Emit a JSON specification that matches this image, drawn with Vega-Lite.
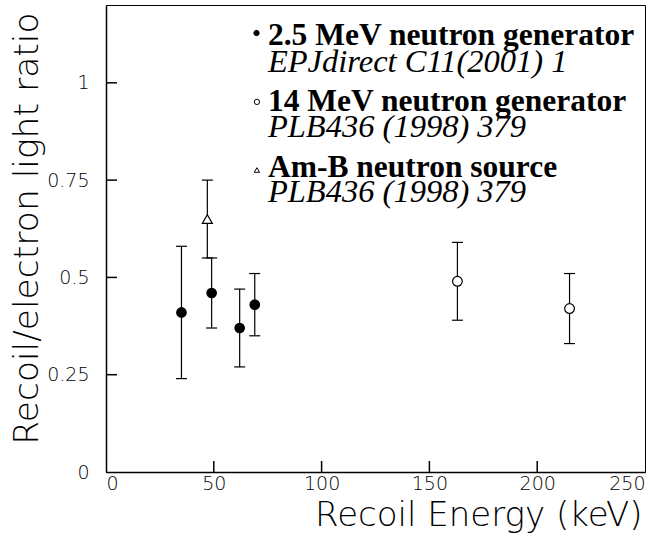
{
  "$schema": "https://vega.github.io/schema/vega-lite/v6.json",
  "width": 539,
  "height": 467,
  "autosize": {"type": "none"},
  "padding": {"left": 106, "top": 5, "right": 21, "bottom": 66},
  "background": "white",
  "config": {
    "view": {"stroke": "#000", "strokeWidth": 1},
    "axis": {
      "domainColor": "#000",
      "domainWidth": 1.5,
      "ticks": false,
      "grid": false,
      "labelFont": "DejaVu Sans",
      "labelFontWeight": 200,
      "labelFontSize": 19,
      "labelColor": "#000",
      "titleFont": "DejaVu Sans",
      "titleFontWeight": 200,
      "titleColor": "#000"
    }
  },
  "datasets": {
    "pts": [
      {"energy": 35, "ratio": 0.41, "lo": 0.24, "hi": 0.58, "src": "2.5 MeV neutron generator"},
      {"energy": 49, "ratio": 0.46, "lo": 0.37, "hi": 0.55, "src": "2.5 MeV neutron generator"},
      {"energy": 62, "ratio": 0.37, "lo": 0.27, "hi": 0.47, "src": "2.5 MeV neutron generator"},
      {"energy": 69, "ratio": 0.43, "lo": 0.35, "hi": 0.51, "src": "2.5 MeV neutron generator"},
      {"energy": 163, "ratio": 0.49, "lo": 0.39, "hi": 0.59, "src": "14 MeV neutron generator"},
      {"energy": 215, "ratio": 0.42, "lo": 0.33, "hi": 0.51, "src": "14 MeV neutron generator"},
      {"energy": 47, "ratio": 0.65, "lo": 0.55, "hi": 0.75, "src": "Am-B neutron source"}
    ],
    "xticks": [{"xt": 50, "base": 0}, {"xt": 100, "base": 0}, {"xt": 150, "base": 0}, {"xt": 200, "base": 0}],
    "yticks": [{"yt": 0.25, "base": 0}, {"yt": 0.5, "base": 0}, {"yt": 0.75, "base": 0}, {"yt": 1, "base": 0}],
    "legend": [
      {"lx": 75.1, "ly": 1.097, "kind": "bold", "label": "2.5 MeV neutron generator"},
      {"lx": 75.1, "ly": 1.029, "kind": "italic", "label": "EPJdirect C11(2001) 1"},
      {"lx": 75.1, "ly": 0.928, "kind": "bold", "label": "14 MeV neutron generator"},
      {"lx": 75.1, "ly": 0.862, "kind": "italic", "label": "PLB436 (1998) 379"},
      {"lx": 75.1, "ly": 0.759, "kind": "bold", "label": "Am-B neutron source"},
      {"lx": 75.1, "ly": 0.695, "kind": "italic", "label": "PLB436 (1998) 379"}
    ],
    "legsym": [
      {"lx": 69.8, "ly": 1.128, "src": "2.5 MeV neutron generator"},
      {"lx": 70, "ly": 0.951, "src": "14 MeV neutron generator"},
      {"lx": 70, "ly": 0.776, "src": "Am-B neutron source"}
    ]
  },
  "layer": [
    {
      "data": {"name": "pts"},
      "mark": {"type": "rule", "color": "#000", "strokeWidth": 1.2},
      "encoding": {
        "x": {"field": "energy", "type": "quantitative", "scale": {"domain": [0, 250], "nice": false, "zero": false},
              "axis": {"orient": "bottom", "values": [0, 50, 100, 150, 200, 250], "labelPadding": 2, "labelBaseline": "top", "format": "d",
                       "title": "Recoil Energy (keV)", "titleFontSize": 34, "titleAnchor": "end",
                       "titleAlign": "right", "titleBaseline": "alphabetic", "titleX": 536, "titleY": 53}},
        "y": {"field": "lo", "type": "quantitative", "scale": {"domain": [0, 1.2], "nice": false, "zero": false},
              "axis": {"orient": "left", "values": [0, 0.25, 0.5, 0.75, 1], "labelPadding": 17, "format": ".2~f",
                       "title": "Recoil/electron light ratio", "titleFontSize": 34.5, "titleAngle": -90,
                       "titleAlign": "right", "titleBaseline": "alphabetic", "titleX": -69, "titleY": 7}},
        "y2": {"field": "hi"}
      }
    },
    {
      "data": {"name": "xticks"},
      "mark": {"type": "tick", "orient": "vertical", "size": 11, "thickness": 1.5, "color": "#000", "opacity": 1, "yOffset": -5.5},
      "encoding": {
        "x": {"field": "xt", "type": "quantitative"},
        "y": {"field": "base", "type": "quantitative"}
      }
    },
    {
      "data": {"name": "yticks"},
      "mark": {"type": "tick", "orient": "horizontal", "size": 11, "thickness": 1.5, "color": "#000", "opacity": 1, "xOffset": 5.5},
      "encoding": {
        "x": {"field": "base", "type": "quantitative"},
        "y": {"field": "yt", "type": "quantitative"}
      }
    },
    {
      "data": {"name": "pts"},
      "mark": {"type": "tick", "orient": "horizontal", "size": 11, "thickness": 1.2, "color": "#000", "opacity": 1},
      "encoding": {
        "x": {"field": "energy", "type": "quantitative"},
        "y": {"field": "lo", "type": "quantitative"}
      }
    },
    {
      "data": {"name": "pts"},
      "mark": {"type": "tick", "orient": "horizontal", "size": 11, "thickness": 1.2, "color": "#000", "opacity": 1},
      "encoding": {
        "x": {"field": "energy", "type": "quantitative"},
        "y": {"field": "hi", "type": "quantitative"}
      }
    },
    {
      "data": {"name": "pts"},
      "mark": {"type": "point", "filled": true, "opacity": 1, "stroke": "#000", "strokeWidth": 1.2},
      "encoding": {
        "x": {"field": "energy", "type": "quantitative"},
        "y": {"field": "ratio", "type": "quantitative"},
        "shape": {"field": "src", "type": "nominal", "legend": null,
                  "scale": {"domain": ["2.5 MeV neutron generator", "14 MeV neutron generator", "Am-B neutron source"],
                            "range": ["circle", "circle", "triangle-up"]}},
        "fill": {"field": "src", "type": "nominal", "legend": null,
                 "scale": {"domain": ["2.5 MeV neutron generator", "14 MeV neutron generator", "Am-B neutron source"],
                           "range": ["#000", "#fff", "#fff"]}},
        "size": {"field": "src", "type": "nominal", "legend": null,
                 "scale": {"domain": ["2.5 MeV neutron generator", "14 MeV neutron generator", "Am-B neutron source"],
                           "range": [90, 100, 90]}}
      }
    },
    {
      "data": {"name": "legsym"},
      "mark": {"type": "point", "filled": true, "opacity": 1, "stroke": "#000", "strokeWidth": 1},
      "encoding": {
        "x": {"field": "lx", "type": "quantitative"},
        "y": {"field": "ly", "type": "quantitative"},
        "shape": {"field": "src", "type": "nominal", "legend": null},
        "fill": {"field": "src", "type": "nominal", "legend": null},
        "size": {"value": 28}
      }
    },
    {
      "data": {"name": "legend"},
      "transform": [{"filter": "datum.kind == 'bold'"}],
      "mark": {"type": "text", "align": "left", "baseline": "alphabetic", "font": "Liberation Serif", "fontWeight": "bold", "fontSize": 31.5, "color": "#000"},
      "encoding": {
        "x": {"field": "lx", "type": "quantitative"},
        "y": {"field": "ly", "type": "quantitative"},
        "text": {"field": "label"}
      }
    },
    {
      "data": {"name": "legend"},
      "transform": [{"filter": "datum.kind == 'italic'"}],
      "mark": {"type": "text", "align": "left", "baseline": "alphabetic", "font": "Liberation Serif", "fontStyle": "italic", "fontSize": 32.5, "color": "#000"},
      "encoding": {
        "x": {"field": "lx", "type": "quantitative"},
        "y": {"field": "ly", "type": "quantitative"},
        "text": {"field": "label"}
      }
    }
  ]
}
